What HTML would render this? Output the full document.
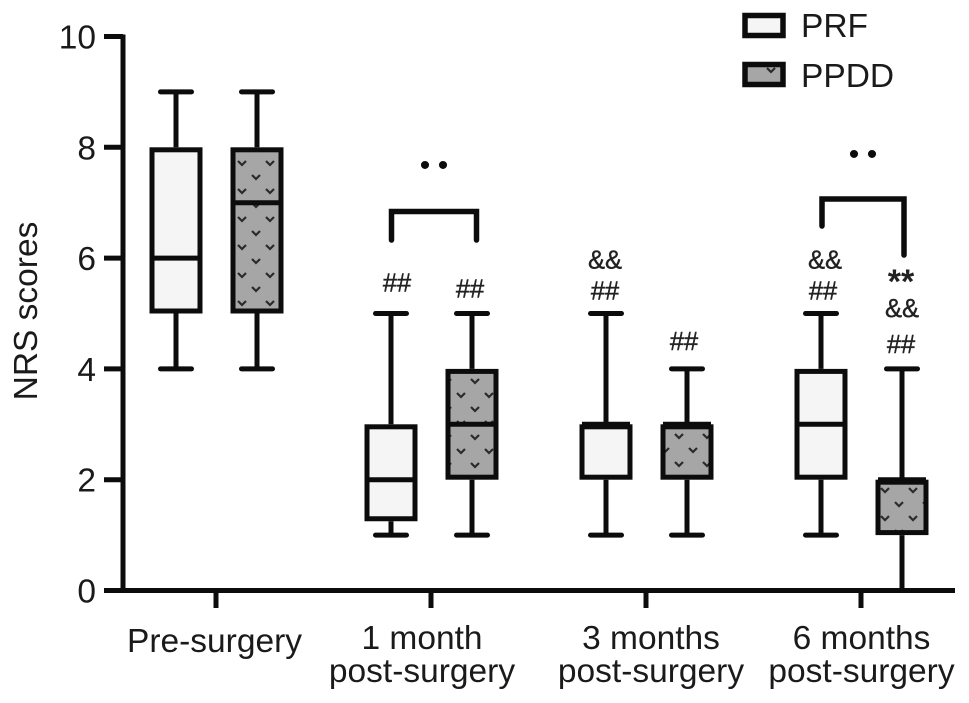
<!DOCTYPE html>
<html>
<head>
<meta charset="utf-8">
<title>NRS scores box plot</title>
<style>
html,body{margin:0;padding:0;background:#fff;}
svg{display:block;font-family:"Liberation Sans",Arial,sans-serif;}
</style>
</head>
<body>
<svg id="chart" width="969" height="703" viewBox="0 0 969 703" xmlns="http://www.w3.org/2000/svg">
<defs id="defs"></defs>
</svg>
<script>
const categories = [["Pre-surgery"], ["1 month", "post-surgery"], ["3 months", "post-surgery"], ["6 months", "post-surgery"]];
const seriesNames = ["PRF", "PPDD"];
const prfMin = [4, 1, 1, 1];
const prfQ1 = [5, 1.25, 2, 2];
const prfMedian = [6, 2, 3, 3];
const prfQ3 = [8, 3, 3, 4];
const prfMax = [9, 5, 5, 5];
const ppddMin = [4, 1, 1, 0];
const ppddQ1 = [5, 2, 2, 1];
const ppddMedian = [7, 3, 3, 2];
const ppddQ3 = [8, 4, 3, 2];
const ppddMax = [9, 5, 4, 4];
const yTicks = [0, 2, 4, 6, 8, 10];
const yTitle = "NRS scores";

const svgNS = "http://www.w3.org/2000/svg";
const svg = document.getElementById("chart");
const defs = document.getElementById("defs");
const yScale = v => 590.5 - v * 55.4;
const catX = i => 216 + i * 215;
const boxX = (i, s) => catX(i) + (s === 0 ? -40 : 41);
const labelNudge = [-1.5, -9, 5, 0.5];
const BOXW = 48, CAPW = 31, SW = 5;
const phases = [[9, -10.5], [13, -28.7], [16, -15.7], [7, -17]];

function make(tag, attrs, text) {
  const el = document.createElementNS(svgNS, tag);
  for (const k in attrs) el.setAttribute(k, attrs[k]);
  if (text !== undefined) el.textContent = text;
  svg.appendChild(el);
  return el;
}
function line(x1, y1, x2, y2, w) {
  return make("line", { x1, y1, x2, y2, stroke: "#0c0c0c", "stroke-width": w || SW });
}
function vee(parent, cx, cy) {
  const p = document.createElementNS(svgNS, "path");
  p.setAttribute("d", `M${cx - 4} ${cy - 2}L${cx} ${cy + 2}L${cx + 4} ${cy - 2}`);
  p.setAttribute("fill", "none");
  p.setAttribute("stroke", "#2a2a2a");
  p.setAttribute("stroke-width", "2.2");
  parent.appendChild(p);
}
function makePattern(id, ox, oy) {
  const pat = document.createElementNS(svgNS, "pattern");
  pat.setAttribute("id", id);
  pat.setAttribute("patternUnits", "userSpaceOnUse");
  pat.setAttribute("width", 28);
  pat.setAttribute("height", 28);
  pat.setAttribute("patternTransform", `translate(${ox} ${oy})`);
  const bg = document.createElementNS(svgNS, "rect");
  bg.setAttribute("width", 28);
  bg.setAttribute("height", 28);
  bg.setAttribute("fill", "#a6a6a6");
  pat.appendChild(bg);
  vee(pat, 7, 7);
  vee(pat, 21, 21);
  defs.appendChild(pat);
}
function drawBox(i, s, mn, q1, med, q3, mx) {
  const cx = boxX(i, s);
  const key = seriesNames[s].toLowerCase() + "-" + i;
  const wl = line(cx, yScale(mx), cx, yScale(q3));
  
  
  const wu = line(cx, yScale(q1), cx, yScale(mn));
  
  
  const capT = line(cx - CAPW / 2, yScale(mx), cx + CAPW / 2, yScale(mx));
  capT.setAttribute("stroke-linecap", "round");
  
  
  if (mn > 0) {
    const capB = line(cx - CAPW / 2, yScale(mn), cx + CAPW / 2, yScale(mn));
    capB.setAttribute("stroke-linecap", "round");
    
    
  }
  const left = cx - BOXW / 2;
  let fill = "#f5f5f5";
  if (s === 1) {
    const id = "vee-" + i;
    makePattern(id, left + phases[i][0] - 7, yScale(q1) + phases[i][1] - 7);
    fill = `url(#${id})`;
  }
  const r = make("rect", { x: left, y: yScale(q3) + SW / 2, width: BOXW, height: yScale(q1) - yScale(q3) - SW, fill, stroke: "#0c0c0c", "stroke-width": SW });
  
  
  const ml = line(left, yScale(med), left + BOXW, yScale(med));
  
  
}

// Axes
const yAxis = line(123, yScale(10) - 2, 123, yScale(0), SW);


const xAxis = line(104, yScale(0), 955, yScale(0), SW);


yTicks.forEach(t => {
  if (t > 0) {
    const tk = line(104, yScale(t), 123, yScale(t), SW);
    
    
  }
  const lab = make("text", { x: 96, y: yScale(t) + 12, "text-anchor": "end", "font-size": 33.5, fill: "#1a1a1a" }, String(t));
  
  
});
categories.forEach((c, i) => {
  const tk = line(catX(i), yScale(0), catX(i), 608, SW);
  
  
  c.forEach((txt, j) => {
    const baseY = c.length === 1 ? 652 : 649 + j * 33;
    const lab = make("text", { x: catX(i) + labelNudge[i], y: baseY, "text-anchor": "middle", "font-size": 33.5, fill: "#1a1a1a" }, txt);
    
    
  });
});
const yT = make("text", { x: 0, y: 0, transform: "translate(37 311) rotate(-90)", "text-anchor": "middle", "font-size": 33.5, fill: "#1a1a1a" }, yTitle);



// Boxes
categories.forEach((c, i) => {
  drawBox(i, 0, prfMin[i], prfQ1[i], prfMedian[i], prfQ3[i], prfMax[i]);
  drawBox(i, 1, ppddMin[i], ppddQ1[i], ppddMedian[i], ppddQ3[i], ppddMax[i]);
});

// Significance annotations: [category, series, text, distance above whisker top, x shift]
const annotations = [
  [1, 0, "##", 22, 6],
  [1, 1, "##", 16, -2],
  [2, 0, "##", 14, -1],
  [2, 0, "&&", 45, -1],
  [2, 1, "##", 19, -3],
  [3, 0, "##", 14, 2],
  [3, 0, "&&", 45, 4],
  [3, 1, "##", 16, -1],
  [3, 1, "&&", 52, 0],
  [3, 1, "**", 76, -1]
];
const maxes = [prfMax, ppddMax];
annotations.forEach((a, n) => {
  const isStar = a[2] === "**";
  const t = make("text", {
    x: boxX(a[0], a[1]) + a[4],
    y: yScale(maxes[a[1]][a[0]]) - a[3],
    "text-anchor": "middle",
    "font-size": isStar ? 34 : 25.5,
    "font-weight": isStar ? "bold" : "normal",
    stroke: isStar ? "none" : "#222",
    "stroke-width": isStar ? 0 : 0.4,
    fill: "#222"
  }, a[2]);
  
  
});

// Brackets
const b1 = make("path", { d: "M391.5 240V211.5H476.5V240", fill: "none", stroke: "#0c0c0c", "stroke-width": 5.5, "stroke-linecap": "round" });


const b2 = make("path", { d: "M822 226V199H904V255", fill: "none", stroke: "#0c0c0c", "stroke-width": 5.5, "stroke-linecap": "round" });


const d1 = make("text", { x: 437.8, y: 175, "text-anchor": "middle", "font-size": 30, "letter-spacing": "7.5", fill: "#0c0c0c" }, "••");


const d2 = make("text", { x: 866.8, y: 164, "text-anchor": "middle", "font-size": 30, "letter-spacing": "7.5", fill: "#0c0c0c" }, "••");



// Legend
seriesNames.forEach((name, s) => {
  const y = 15.5 + s * 49;
  const sw = make("rect", { x: 745, y, width: 38, height: 20, fill: s ? "#a6a6a6" : "#f5f5f5", stroke: "#0c0c0c", "stroke-width": 5.5 });
  
  
  if (s) {
    const g = make("g", {});
    vee(g, 771, 70);
    
    
  }
  const t = make("text", { x: 801, y: 37 + s * 50, "font-size": 33.5, fill: "#1a1a1a" }, name);
  
  
});
</script>
</body>
</html>
